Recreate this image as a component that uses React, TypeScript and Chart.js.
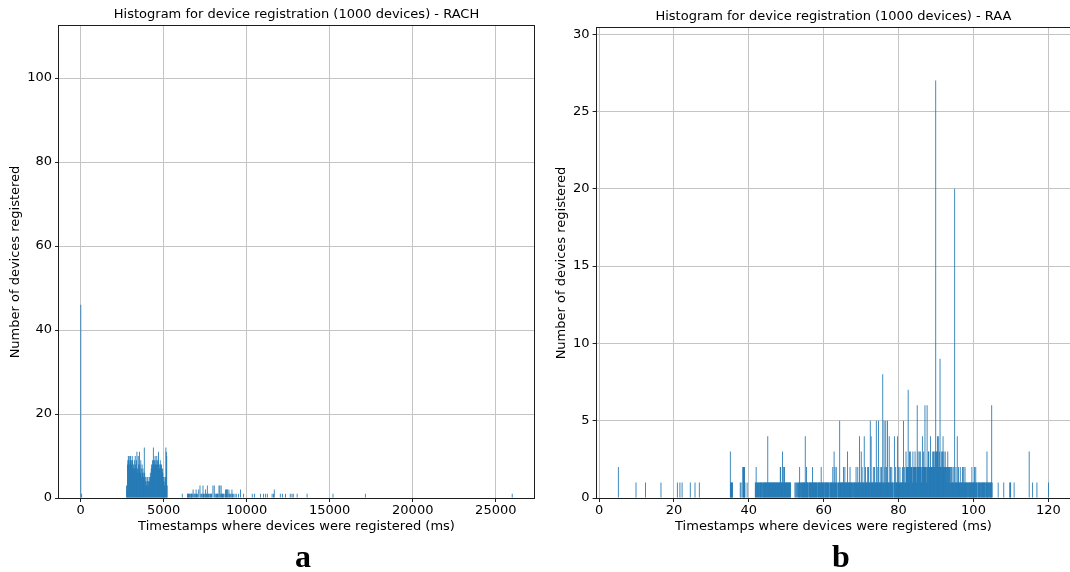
import React, { useEffect, useRef } from 'react';
import { Chart, registerables } from 'chart.js';

Chart.register(...registerables);
Chart.defaults.font.family = "'DejaVu Sans', sans-serif";

// ---------------------------------------------------------------------------
// RACH histogram: 1000 bins of 26 ms starting at 0 ms
// ---------------------------------------------------------------------------
const RACH_ORIGIN_MS = 0;
const RACH_BIN_MS = 26;

// isolated bins (bin index -> devices)
const rachBins = [
  0, 2, 235, 247, 248, 249, 250, 252, 253, 255,
  256, 257, 258, 260, 262, 264, 265, 267, 268, 270,
  273, 276, 278, 280, 281, 283, 284, 285, 287, 289,
  290, 291, 293, 294, 296, 297, 299, 300, 302, 303,
  306, 309, 311, 313, 314, 316, 317, 318, 320, 322,
  323, 325, 326, 328, 329, 330, 332, 335, 336, 337,
  338, 340, 341, 343, 344, 346, 348, 350, 351, 353,
  357, 360, 365, 370, 377, 397, 402, 416, 423, 428,
  432, 443, 446, 448, 462, 467, 474, 485, 489, 492,
  501, 524, 584, 659, 999,
];
const rachCounts = [
  46, 1, 1, 1, 1, 1, 1, 1, 1, 1,
  1, 1, 1, 2, 1, 1, 1, 2, 1, 1,
  2, 3, 1, 1, 1, 3, 1, 1, 1, 2,
  1, 1, 3, 1, 1, 1, 1, 1, 1, 1,
  3, 3, 1, 1, 1, 1, 1, 1, 3, 3,
  1, 3, 1, 1, 1, 1, 1, 2, 1, 2,
  2, 2, 1, 2, 1, 1, 1, 2, 1, 1,
  1, 1, 1, 2, 1, 1, 1, 1, 1, 1,
  1, 1, 1, 2, 1, 1, 1, 1, 1, 1,
  1, 1, 1, 1, 1,
];

// the main burst, consecutive bins from bin 106 (~2.8 s) to bin 200 (~5.2 s)
const rachBurstFirstBin = 106;
const rachBurstCounts = [
  3, 2,
  8, 9, 10, 9, 10, 8, 9, 10, 9, 8, 9, 10, 9, 7, 8,
  7, 9, 7, 10, 8, 7, 9, 11, 7, 6, 10, 8,
  7, 11, 8, 6, 9, 7, 5, 8, 6, 7, 5, 6, 12, 6, 5,
  4, 5, 3, 4, 5, 4, 3, 4, 5, 4, 5, 6, 5,
  7, 8, 7, 9, 8, 12, 9, 8, 9, 10, 8, 9, 8, 10, 9,
  8, 9, 11, 8, 7, 8, 9, 8, 7, 8, 6, 7, 6, 5,
  4, 5, 3, 4, 5,
  12, 11, 10, 3,
];

const rachXTicks = [0, 5000, 10000, 15000, 20000, 25000];
const rachYTicks = [0, 20, 40, 60, 80, 100];

// ---------------------------------------------------------------------------
// RAA histogram: 1000 bins of 0.115 ms starting at 5.1 ms
// ---------------------------------------------------------------------------
const RAA_ORIGIN_MS = 5.1;
const RAA_BIN_MS = 0.115;

const raaBins = [
  0, 41, 63, 99, 137, 143, 148, 167, 178, 188,
  260, 261, 262, 263, 264, 265, 283, 285, 289, 290,
  291, 292, 293, 294, 299, 882, 895, 909, 910, 911,
  919, 954, 962, 972, 999,
];
const raaCounts = [
  2, 1, 1, 1, 1, 1, 1, 1, 1, 1,
  3, 1, 1, 1, 1, 1, 1, 1, 2, 2,
  2, 2, 2, 1, 1, 1, 1, 1, 1, 1,
  1, 3, 1, 1, 1,
];

// the busy stretch, consecutive bins from bin 318 (~41.7 ms) to bin 868 (~105 ms)
const raaBusyFirstBin = 318;
const raaBusyCounts = [
  1, 1, 2, 1, 0, 1, 1, 1, 1, 0,
  1, 1, 1, 1, 1, 1, 0, 1, 1, 1,
  1, 1, 1, 1, 1, 1, 1, 1, 1, 4,
  1, 1, 1, 1, 1, 1, 1, 1, 1, 1,
  1, 1, 1, 1, 1, 1, 1, 1, 1, 1,
  1, 1, 1, 1, 1, 1, 1, 1, 2, 2,
  1, 1, 1, 3, 1, 1, 2, 1, 2, 1,
  1, 1, 1, 1, 1, 1, 1, 1, 1, 1,
  1, 1, 1, 0, 0, 0, 0, 0, 0, 0,
  0, 0, 1, 0, 1, 0, 1, 0, 1, 0,
  1, 1, 1, 2, 1, 1, 0, 1, 1, 1,
  1, 1, 1, 1, 1, 1, 4, 1, 1, 2,
  1, 1, 1, 1, 0, 1, 1, 1, 1, 1,
  1, 1, 1, 2, 1, 1, 1, 1, 1, 1,
  1, 1, 1, 1, 1, 0, 1, 1, 1, 1,
  1, 1, 1, 2, 1, 1, 1, 1, 1, 1,
  0, 1, 1, 1, 1, 1, 1, 1, 1, 1,
  1, 1, 0, 1, 1, 1, 1, 1, 1, 1,
  2, 1, 1, 3, 1, 2, 1, 1, 2, 1,
  1, 0, 1, 1, 1, 1, 5, 1, 1, 1,
  1, 1, 1, 1, 1, 2, 1, 1, 2, 1,
  1, 1, 1, 1, 3, 1, 1, 1, 1, 1,
  2, 1, 1, 1, 1, 1, 1, 0, 1, 1,
  1, 1, 1, 1, 2, 1, 1, 1, 2, 1,
  1, 1, 4, 1, 1, 1, 3, 1, 2, 1,
  1, 1, 1, 4, 1, 1, 2, 1, 1, 1,
  1, 2, 1, 2, 1, 1, 1, 5, 1, 4,
  1, 1, 1, 1, 2, 1, 1, 2, 1, 1,
  1, 5, 1, 2, 1, 1, 5, 1, 1, 1,
  2, 1, 1, 2, 1, 1, 8, 1, 1, 5,
  1, 2, 1, 5, 1, 2, 1, 5, 1, 1,
  1, 4, 1, 1, 2, 1, 1, 2, 1, 1,
  1, 0, 1, 4, 1, 1, 2, 1, 1, 1,
  4, 1, 1, 2, 1, 1, 2, 1, 1, 1,
  1, 1, 2, 1, 5, 1, 1, 2, 1, 1,
  3, 2, 2, 2, 2, 7, 2, 1, 3, 2,
  3, 2, 2, 2, 2, 1, 3, 2, 2, 2,
  2, 3, 2, 2, 1, 2, 6, 2, 3, 2,
  2, 2, 3, 3, 2, 2, 1, 2, 4, 2,
  2, 3, 2, 2, 6, 2, 2, 2, 1, 6,
  2, 2, 3, 3, 2, 2, 2, 4, 2, 2,
  2, 2, 3, 2, 3, 2, 2, 3, 3, 27,
  2, 3, 3, 4, 3, 4, 2, 2, 3, 9,
  2, 2, 3, 2, 2, 3, 4, 2, 3, 2,
  2, 3, 2, 2, 2, 1, 2, 3, 2, 2,
  1, 2, 2, 1, 2, 2, 1, 2, 1, 1,
  1, 2, 1, 20, 1, 1, 2, 1, 1, 4,
  1, 1, 2, 1, 1, 1, 2, 1, 1, 1,
  1, 2, 1, 1, 2, 1, 1, 2, 1, 1,
  1, 1, 1, 1, 0, 1, 1, 1, 1, 1,
  1, 1, 1, 2, 1, 1, 1, 1, 1, 2,
  1, 1, 2, 1, 1, 1, 0, 1, 1, 1,
  1, 1, 1, 1, 0, 1, 1, 1, 1, 1,
  1, 1, 1, 1, 0, 1, 1, 1, 3, 1,
  1, 1, 1, 0, 1, 1, 1, 1, 1, 6,
  1,
];

const raaXTicks = [0, 20, 40, 60, 80, 100, 120];
const raaYTicks = [0, 5, 10, 15, 20, 25, 30];

// ---------------------------------------------------------------------------

type Pt = { x: number; y: number };

function histogramPoints(
  origin: number,
  width: number,
  bins: number[],
  counts: number[],
  runStart: number,
  runCounts: number[],
): Pt[] {
  const center = (b: number) => origin + (b + 0.5) * width;
  const pts: Pt[] = bins.map((b, i) => ({ x: center(b), y: counts[i] }));
  runCounts.forEach((c, i) => {
    if (c > 0) pts.push({ x: center(runStart + i), y: c });
  });
  pts.sort((a, b) => a.x - b.x);
  return pts;
}

// box around the plotting area (all four spines)
const framePlugin = {
  id: 'frame',
  afterDraw(chart: any) {
    const { ctx, chartArea: a } = chart;
    ctx.save();
    ctx.strokeStyle = '#1e1e1e';
    ctx.lineWidth = 1;
    const l = Math.round(a.left) - 0.5;
    const r = Math.round(a.right) + 0.5;
    const t = Math.round(a.top) - 0.5;
    const b = Math.round(a.bottom) + 0.5;
    ctx.strokeRect(l, t, r - l, b - t);
    ctx.restore();
  },
};

type PanelProps = {
  left: number;
  width: number;
  height: number;
  title: string;
  points: Pt[];
  xMin: number;
  xMax: number;
  yMax: number;
  xTicks: number[];
  yTicks: number[];
  yAxisWidth: number;
  yTitleOffset: number;
  padRight: number;
  titlePadTop: number;
  titlePadBottom: number;
};

const BLUE = '#1f77b4';
const GRID = '#c4c4c4';
const INK = '#000000';

function HistogramPanel(p: PanelProps) {
  const ref = useRef<HTMLCanvasElement>(null);

  useEffect(() => {
    const chart = new Chart(ref.current as HTMLCanvasElement, {
      type: 'bar',
      data: {
        datasets: [
          {
            data: p.points as any,
            backgroundColor: BLUE,
            borderWidth: 0,
            barThickness: 0.85,
            inflateAmount: 0,
            grouped: false,
          } as any,
        ],
      },
      options: {
        animation: false,
        responsive: false,
        devicePixelRatio: 1,
        layout: { padding: { left: 0, right: p.padRight, top: 0, bottom: 0 } },
        plugins: {
          legend: { display: false },
          tooltip: { enabled: false },
          title: {
            display: true,
            text: p.title,
            color: INK,
            fullSize: false,
            font: { size: 13, weight: 'normal' },
            padding: { top: p.titlePadTop, bottom: p.titlePadBottom },
          },
        },
        scales: {
          x: {
            type: 'linear',
            min: p.xMin,
            max: p.xMax,
            offset: false,
            afterBuildTicks: (s: any) => {
              s.ticks = p.xTicks.map((v) => ({ value: v }));
            },
            afterFit: (s: any) => {
              s.height = 42;
            },
            ticks: {
              color: INK,
              font: { size: 13 },
              padding: 1,
              maxRotation: 0,
              autoSkip: false,
              callback: (v: any) => String(v),
            },
            grid: {
              color: GRID,
              lineWidth: 1,
              offset: false,
              tickColor: '#222',
              tickLength: 4,
              tickWidth: 1,
            },
            border: { display: false },
            title: {
              display: true,
              text: 'Timestamps where devices were registered (ms)',
              color: INK,
              font: { size: 13 },
              padding: { top: 0, bottom: 6 },
            },
          },
          y: {
            type: 'linear',
            min: 0,
            max: p.yMax,
            afterBuildTicks: (s: any) => {
              s.ticks = p.yTicks.map((v) => ({ value: v }));
            },
            afterFit: (s: any) => {
              s.width = p.yAxisWidth;
            },
            ticks: {
              color: INK,
              font: { size: 13 },
              padding: 3,
              autoSkip: false,
              callback: (v: any) => String(v),
            },
            grid: {
              color: GRID,
              lineWidth: 1,
              tickColor: '#222',
              tickLength: 4,
              tickWidth: 1,
            },
            border: { display: false },
            title: {
              display: true,
              text: 'Number of devices registered',
              color: INK,
              font: { size: 13 },
              padding: { top: p.yTitleOffset, bottom: 0 },
            },
          },
        },
      } as any,
      plugins: [framePlugin],
    });
    return () => chart.destroy();
  }, []);

  return (
    <canvas
      ref={ref}
      width={p.width}
      height={p.height}
      style={{
        position: 'absolute',
        left: p.left,
        top: 0,
        width: p.width,
        height: p.height,
      }}
    />
  );
}

const panelLetter: React.CSSProperties = {
  position: 'absolute',
  top: 540,
  width: 60,
  textAlign: 'center',
  fontFamily: "'Liberation Serif', 'Times New Roman', serif",
  fontWeight: 'bold',
  fontSize: 32,
  lineHeight: '32px',
  color: '#000',
};

export default function App() {
  const rachPoints = histogramPoints(
    RACH_ORIGIN_MS,
    RACH_BIN_MS,
    rachBins,
    rachCounts,
    rachBurstFirstBin,
    rachBurstCounts,
  );
  const raaPoints = histogramPoints(
    RAA_ORIGIN_MS,
    RAA_BIN_MS,
    raaBins,
    raaCounts,
    raaBusyFirstBin,
    raaBusyCounts,
  );

  return (
    <div
      style={{
        position: 'fixed',
        left: 0,
        top: 0,
        width: 1070,
        height: 572,
        overflow: 'hidden',
        background: '#fff',
      }}
    >
      <HistogramPanel
        left={0}
        width={540}
        height={540}
        title="Histogram for device registration (1000 devices) - RACH"
        points={rachPoints}
        xMin={-1300}
        xMax={27300}
        yMax={112.4}
        xTicks={rachXTicks}
        yTicks={rachYTicks}
        yAxisWidth={59}
        yTitleOffset={8}
        padRight={6}
        titlePadTop={7.2}
        titlePadBottom={3.2}
      />
      <HistogramPanel
        left={540}
        width={532}
        height={540}
        title="Histogram for device registration (1000 devices) - RAA"
        points={raaPoints}
        xMin={-0.65}
        xMax={125.85}
        yMax={30.4}
        xTicks={raaXTicks}
        yTicks={raaYTicks}
        yAxisWidth={56.6}
        yTitleOffset={14}
        padRight={1.7}
        titlePadTop={9}
        titlePadBottom={3.4}
      />
      <div style={{ ...panelLetter, left: 273 }}>a</div>
      <div style={{ ...panelLetter, left: 811 }}>b</div>
    </div>
  );
}
